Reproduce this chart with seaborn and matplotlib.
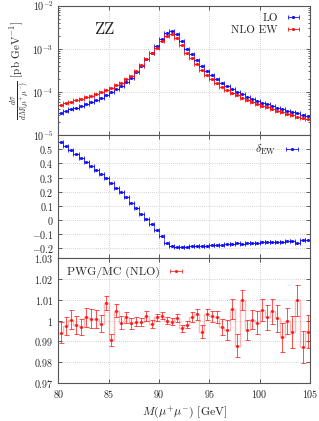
import numpy as np
import pandas as pd
import seaborn as sns
import matplotlib.pyplot as plt
from matplotlib.ticker import FixedLocator, LogLocator, NullFormatter, FuncFormatter, MultipleLocator

# bin edges 80..105 GeV, 0.5 GeV wide
edges = np.arange(80.0, 105.01, 0.5)
centers = edges[:-1] + 0.25

# LO dsigma/dM [pb/GeV]
lo = [3.3e-5, 3.6e-5, 3.95e-5, 4.35e-5, 4.8e-5, 5.3e-5, 5.9e-5, 6.6e-5, 7.4e-5, 8.5e-5,
      9.8e-5, 1.15e-4, 1.37e-4, 1.68e-4, 2.1e-4, 2.9e-4, 4.1e-4, 5.7e-4, 8.1e-4, 1.15e-3,
      1.7e-3, 2.3e-3, 2.65e-3, 2.2e-3, 1.5e-3, 1.0e-3, 7.4e-4, 5.4e-4, 4.0e-4, 3.1e-4,
      2.45e-4, 1.95e-4, 1.6e-4, 1.35e-4, 1.15e-4, 1.0e-4, 8.8e-5, 7.8e-5, 7.0e-5, 6.3e-5,
      5.7e-5, 5.2e-5, 4.75e-5, 4.35e-5, 4.0e-5, 3.7e-5, 3.45e-5, 3.2e-5, 2.95e-5, 2.75e-5]

# relative EW correction
delta_ew = [0.55, 0.525, 0.495, 0.465, 0.44, 0.41, 0.38, 0.355, 0.325, 0.295,
            0.265, 0.23, 0.195, 0.16, 0.12, 0.085, 0.045, 0.01, -0.03, -0.07,
            -0.11, -0.16, -0.183, -0.19, -0.19, -0.188, -0.186, -0.184, -0.182, -0.18,
            -0.177, -0.176, -0.174, -0.172, -0.17, -0.163, -0.166, -0.164, -0.161, -0.159,
            -0.158, -0.157, -0.156, -0.155, -0.153, -0.151, -0.147, -0.16, -0.142, -0.144]

# PWG/MC ratio and its errors
ratio = [0.9942, 0.9974, 1.0005, 0.998, 0.997, 1.0016, 1.001, 1.0008, 0.9985, 1.0084,
         0.9906, 1.0048, 0.999, 1.0016, 0.9987, 0.9994, 0.9994, 1.0022, 0.9984, 1.0016,
         1.0024, 1.0, 0.9995, 1.0013, 0.9963, 0.998, 1.0016, 1.003, 0.9947, 1.003,
         1.002, 1.0016, 0.9968, 0.9956, 1.0056, 0.988, 1.0097, 0.9956, 1.0005, 0.9989,
         1.0053, 1.0016, 1.0044, 1.0011, 0.992, 1.0, 0.9947, 1.0097, 0.9871, 0.9947]
ratio_err = [0.005, 0.0042, 0.0045, 0.0042, 0.004, 0.0045, 0.0045, 0.0045, 0.0042, 0.0035,
             0.003, 0.0032, 0.003, 0.0025, 0.0025, 0.0022, 0.002, 0.0022, 0.0018, 0.0018,
             0.0016, 0.0016, 0.0016, 0.0018, 0.0016, 0.0016, 0.0024, 0.0027, 0.003, 0.0027,
             0.0028, 0.0028, 0.0039, 0.0047, 0.0048, 0.0057, 0.0048, 0.0048, 0.0046, 0.0055,
             0.0053, 0.006, 0.006, 0.0065, 0.0069, 0.0062, 0.0077, 0.0073, 0.0077, 0.0081]

delta_ticks = [-0.2, -0.1, 0, 0.1, 0.2, 0.3, 0.4, 0.5]
ratio_ticks = [0.97, 0.98, 0.99, 1.0, 1.01, 1.02, 1.03]

lo = np.array(lo)
nlo = lo * (1 + np.array(delta_ew))

sns.set_style("ticks")
plt.rcParams['font.family'] = ['cmr10', 'DejaVu Serif']
plt.rcParams['mathtext.fontset'] = 'cm'
plt.rcParams['axes.formatter.use_mathtext'] = True
plt.rcParams['axes.unicode_minus'] = True

BLUE = "#1010ff"
RED = "#ff1010"

fig = plt.figure(figsize=(3.19, 4.21), dpi=100)
L, W = 0.183, 0.789
ax1 = fig.add_axes([L, 0.679, W, 0.3075])
ax2 = fig.add_axes([L, 0.3865, W, 0.2925], sharex=ax1)
ax3 = fig.add_axes([L, 0.0903, W, 0.2962], sharex=ax1)

EB = dict(fmt="s", ms=1.1, capsize=1.3, capthick=0.6, elinewidth=0.6)


def steps(ax, vals, color, alpha=0.5, lw=0.7):
    df = pd.DataFrame({"x": edges, "y": np.append(vals, vals[-1])})
    sns.lineplot(data=df, x="x", y="y", ax=ax, color=color, alpha=alpha, lw=lw,
                 drawstyle="steps-post", estimator=None, legend=False)


def style(ax):
    ax.tick_params(direction="in", which="both", top=True, right=True,
                   labelsize=7.2, length=3, width=0.5, colors="#222222")
    ax.tick_params(which="minor", length=1.6)
    ax.grid(True, which="major", ls=(0, (1, 2)), lw=0.5, color="#aaaaaa")
    for s in ax.spines.values():
        s.set_color("#555555")
        s.set_linewidth(0.8)
    ax.set_xlabel("")
    ax.set_ylabel("")


# --- top: distributions
steps(ax1, lo, BLUE)
steps(ax1, nlo, RED)
h_lo = ax1.errorbar(centers, lo, xerr=0.25, color=BLUE, label="LO", **EB)
h_nlo = ax1.errorbar(centers, nlo, xerr=0.25, color=RED, label="NLO EW", **EB)
ax1.set_yscale("log")
ax1.set_ylim(1e-5, 1e-2)
ax1.yaxis.set_major_locator(LogLocator(base=10, numticks=10))
ax1.yaxis.set_minor_locator(LogLocator(base=10, subs=np.arange(2, 10), numticks=20))
ax1.yaxis.set_minor_formatter(NullFormatter())
style(ax1)
ax1.tick_params(labelbottom=False)
ax1.text(0.14, 0.78, "ZZ", transform=ax1.transAxes, fontsize=12)
ax1.legend(handles=[h_lo, h_nlo], loc="upper right", frameon=False, markerfirst=False,
           fontsize=8, handlelength=1.6, handletextpad=0.6, labelspacing=0.2,
           borderaxespad=0.3)

# --- middle: delta EW
steps(ax2, np.array(delta_ew), BLUE, alpha=0.6)
h_d = ax2.errorbar(centers, delta_ew, xerr=0.25, color=BLUE,
                   label=r"$\delta_{\mathrm{EW}}$", **EB)
ax2.set_ylim(-0.27, 0.6)
ax2.yaxis.set_major_locator(FixedLocator(delta_ticks))
ax2.yaxis.set_major_formatter(FuncFormatter(lambda v, p: f"${v:g}$"))
style(ax2)
ax2.tick_params(labelbottom=False)
ax2.legend(handles=[h_d], loc="upper right", frameon=False, markerfirst=False,
           fontsize=8.5, handlelength=1.6, handletextpad=0.6, borderaxespad=0.3)

# --- bottom: ratio
steps(ax3, np.array(ratio), RED, alpha=0.3, lw=1.0)
ax3.errorbar(centers, ratio, yerr=ratio_err, color=RED, alpha=0.85,
             fmt="s", ms=1.1, capsize=1.8, capthick=0.6, elinewidth=0.6)
h_r = ax3.errorbar([np.nan], [np.nan], xerr=[[0.25]], color=RED, alpha=0.85,
                   label="PWG/MC (NLO)", **EB)
ax3.set_ylim(0.97, 1.03)
ax3.yaxis.set_major_locator(FixedLocator(ratio_ticks))
ax3.yaxis.set_major_formatter(FuncFormatter(lambda v, p: f"${round(v, 3):g}$"))
style(ax3)
ax3.set_xlim(80, 105)
ax3.xaxis.set_major_locator(MultipleLocator(5))
ax3.set_xlabel(r"$M(\mu^{+}\mu^{-})$ [GeV]", fontsize=8.5, labelpad=3)
ax3.legend(handles=[h_r], loc="upper left", frameon=False, markerfirst=False,
           fontsize=8.5, handlelength=1.6, handletextpad=0.6, borderaxespad=0.3)

fig.text(0.06, 0.833, r"$\frac{d\sigma}{dM(\mu^{+}\mu^{-})}$ [pb GeV$^{-1}$]",
         rotation=90, ha="center", va="center", fontsize=8)

fig.savefig("out.png", dpi=100)
